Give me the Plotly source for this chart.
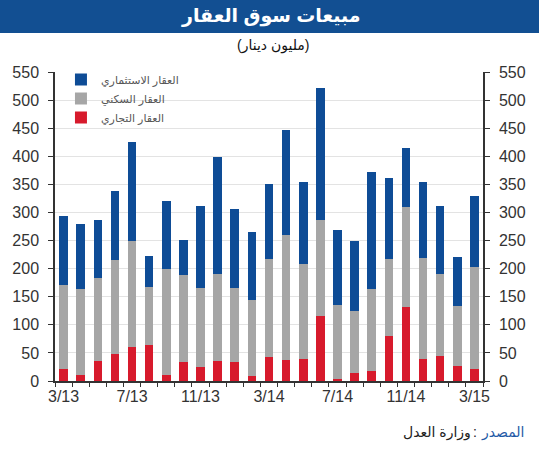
import plotly.graph_objects as go

months = ["3/13", "4/13", "5/13", "6/13", "7/13", "8/13", "9/13", "10/13", "11/13", "12/13",
          "1/14", "2/14", "3/14", "4/14", "5/14", "6/14", "7/14", "8/14", "9/14", "10/14",
          "11/14", "12/14", "1/15", "2/15", "3/15"]
tick_labels = ["3/13", "7/13", "11/13", "3/14", "7/14", "11/14", "3/15"]

# totals, top of grey segment, top of red segment
totals = [293, 279, 287, 339, 426, 222, 320, 251, 311, 398, 306, 265, 351,
          447, 355, 522, 268, 250, 372, 362, 414, 355, 312, 220, 329]
grey_tops = [170, 163, 183, 215, 250, 168, 200, 189, 165, 190, 166, 145, 218,
             259, 209, 286, 135, 125, 164, 218, 309, 219, 190, 133, 203]
commercial = [22, 11, 35, 48, 60, 64, 11, 33, 25, 35, 33, 9, 42,
              38, 40, 115, 4, 14, 17, 80, 131, 39, 45, 26, 22]

residential = [g - c for g, c in zip(grey_tops, commercial)]
investment = [t - g for t, g in zip(totals, grey_tops)]

names = ["العقار التجاري", "العقار السكني", "العقار الاستثماري"]
colors = ["#D71A2C", "#A6A6A6", "#0E4C96"]
series = [commercial, residential, investment]

x = list(range(len(months)))
tick_pos = [months.index(t) for t in tick_labels]

fig = go.Figure()
for name, col, vals in zip(names, colors, series):
    fig.add_trace(go.Bar(x=x, y=vals, name=name, marker=dict(color=col, line=dict(width=0)),
                         width=0.5, hoverinfo="skip"))
# invisible helper so the right-hand axis is drawn
fig.add_trace(go.Scatter(x=[x[0]], y=[0], yaxis="y2", mode="markers",
                         marker=dict(opacity=0), showlegend=False, hoverinfo="skip"))

W, H = 539, 450
ml, mr, mt, mb = 52, 56, 72, 69
pw, ph = W - ml - mr, H - mt - mb

def px_x(p):
    return (p - ml) / pw

def px_y(p):
    return 1 - (p - mt) / ph

arabic_font = "Arial, DejaVu Sans, sans-serif"
num_font = dict(size=16, color="#333333", family="Arial, Liberation Sans")

fig.update_layout(
    width=W, height=H,
    margin=dict(l=ml, r=mr, t=mt, b=mb),
    paper_bgcolor="white", plot_bgcolor="white",
    barmode="stack",
    showlegend=True,
    legend=dict(x=px_x(58), y=px_y(65), xanchor="left", yanchor="top",
                traceorder="reversed", font=dict(size=11, color="#555555", family=arabic_font),
                bgcolor="rgba(0,0,0,0)", itemwidth=30, tracegroupgap=0),
    xaxis=dict(range=[-0.5, len(months) - 0.5], tickmode="array", tickvals=tick_pos,
               ticktext=tick_labels, ticks="", showgrid=False, zeroline=False,
               showline=True, linecolor="#333333", linewidth=1.5,
               tickfont=num_font,
               minor=dict(tickmode="array", tickvals=[i - 0.5 for i in range(len(months) + 1)],
                          ticks="outside", ticklen=4, tickcolor="#333333", showgrid=False)),
    yaxis=dict(range=[0, 550], tickmode="linear", tick0=0, dtick=50,
               showgrid=True, gridcolor="#E3E3E3", gridwidth=1, zeroline=False,
               showline=True, linecolor="#333333", linewidth=1.5,
               ticks="outside", ticklen=5, tickcolor="#333333", ticklabelstandoff=6,
               tickfont=num_font),
    yaxis2=dict(range=[0, 550], tickmode="linear", tick0=0, dtick=50, overlaying="y",
                side="right", showgrid=False, zeroline=False,
                showline=True, linecolor="#333333", linewidth=1.5,
                ticks="outside", ticklen=5, tickcolor="#333333", ticklabelstandoff=6,
                tickfont=num_font),
)

# title banner
fig.add_shape(type="rect", xref="paper", yref="paper",
              x0=px_x(-5), x1=px_x(W + 5), y0=px_y(33), y1=px_y(-5),
              fillcolor="#124F92", line=dict(width=0), layer="below")
fig.add_annotation(text="<b>مبيعات سوق العقار</b>", xref="paper", yref="paper",
                   x=px_x(270), y=px_y(16), xanchor="center", yanchor="middle",
                   showarrow=False, font=dict(size=19, color="white", family=arabic_font))
fig.add_annotation(text="(مليون دينار)", xref="paper", yref="paper",
                   x=px_x(272), y=px_y(46), xanchor="center", yanchor="middle",
                   showarrow=False, font=dict(size=14, color="#111111", family=arabic_font))
# source
fig.add_annotation(text="المصدر", xref="paper", yref="paper",
                   x=px_x(527), y=px_y(432), xanchor="right", yanchor="middle",
                   showarrow=False, font=dict(size=14, color="#1F5AA6", family=arabic_font))
fig.add_annotation(text=":", xref="paper", yref="paper",
                   x=px_x(479), y=px_y(432), xanchor="right", yanchor="middle",
                   showarrow=False, font=dict(size=14, color="#222222", family=arabic_font))
fig.add_annotation(text="وزارة العدل", xref="paper", yref="paper",
                   x=px_x(473), y=px_y(432), xanchor="right", yanchor="middle",
                   showarrow=False, font=dict(size=14, color="#222222", family=arabic_font))

fig.write_html("out.html")
